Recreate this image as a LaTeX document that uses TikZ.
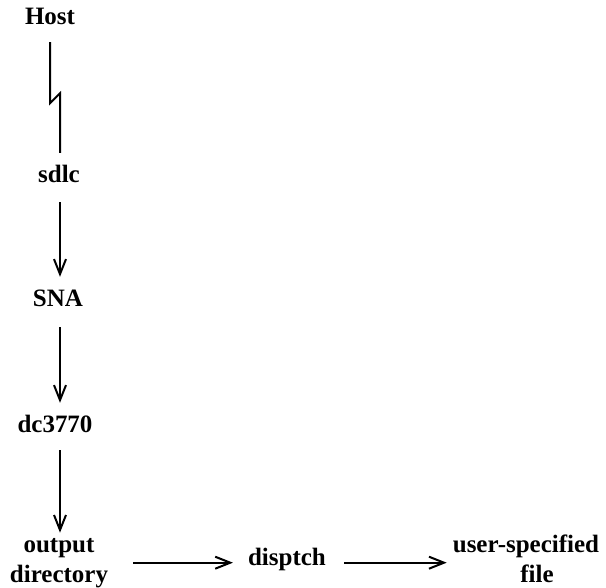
\documentclass[tikz,border=0pt]{standalone}
\usepackage{fontspec}
\setmainfont{Liberation Serif}
\usetikzlibrary{arrows.meta}

\tikzset{
  label/.style={inner sep=0pt, anchor=base, align=center,
    font=\fontsize{25}{30}\selectfont\bfseries},
  single/.style={label, text height=17pt, text depth=0pt},
  wire/.style={line width=2pt, draw=black},
  flow/.style={wire, -{Straight Barb[length=15pt,width=12pt,line width=2pt]}},
}

\begin{document}
\begin{tikzpicture}[x=1pt,y=1pt]
  \useasboundingbox (0,0) rectangle (606,-588);

  % processing chain, top to bottom (two-line labels sit on their last baseline)
  \node[single] (host)   at (50,-25)   {Host};
  \node[single] (sdlc)   at (59,-183)  {sdlc};
  \node[single] (sna)    at (58,-307)  {SNA};
  \node[single] (dc)     at (55,-433)  {dc3770};
  \node[label]  (outdir) at (59,-582)  {output\\directory};
  \node[single] (disp)   at (287,-565) {disptch};
  \node[label]  (user)   at (526,-582) {user-specified\\\hspace*{22pt}file};

  % vertical spine of the chain
  \coordinate (spine) at (60,0);

  % host link drawn as a broken (lightning) line
  \draw[wire, line join=miter, shorten >=13pt]
    ([yshift=-17pt]host.south) -- ++(0,-61) -- ++(10,10) -- (sdlc.north -| spine);

  \draw[flow, shorten <=19pt, shorten >=13pt] (sdlc.south -| spine) -- (sna.north -| spine);
  \draw[flow, shorten <=20pt, shorten >=13pt] (sna.south -| spine) -- (dc.north -| spine);
  \draw[flow, shorten <=17pt, shorten >=5pt]  (dc.south -| spine) -- (outdir.north -| spine);

  % output directory -> disptch -> user-specified file
  \draw[flow, shorten <=25pt, shorten >=15pt] (disp.mid -| outdir.east) -- (disp.mid west);
  \draw[flow, shorten <=18pt, shorten >=6pt]  (disp.mid east) -- (disp.mid -| user.west);
\end{tikzpicture}
\end{document}
